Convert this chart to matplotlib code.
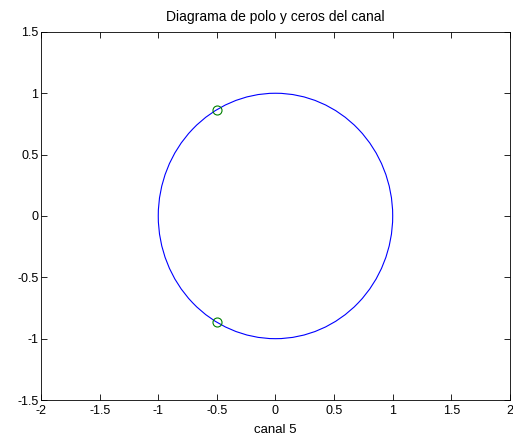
import matplotlib
matplotlib.use("Agg")
import matplotlib.pyplot as plt
from matplotlib.patches import Circle

# Zeros of the channel (real and imaginary parts)
zeros_re = [-0.5, -0.5]
zeros_im = [0.866, -0.866]
unit_radius = 1.0

x_ticks = [-2, -1.5, -1, -0.5, 0, 0.5, 1, 1.5, 2]
x_ticklabels = ["-2", "-1.5", "-1", "-0.5", "0", "0.5", "1", "1.5", "2"]
y_ticks = [-1.5, -1, -0.5, 0, 0.5, 1, 1.5]
y_ticklabels = ["-1.5", "-1", "-0.5", "0", "0.5", "1", "1.5"]

plt.rcParams["font.family"] = ["Liberation Sans", "DejaVu Sans"]
plt.rcParams["font.size"] = 9

fig = plt.figure(figsize=(5.13, 4.43), dpi=100)
ax = fig.add_axes([0.080, 0.097, 0.914, 0.831])

ax.add_patch(Circle((0, 0), unit_radius, fill=False, edgecolor="#0000ff", linewidth=0.8))
ax.plot(zeros_re, zeros_im, linestyle="none", marker="o", markersize=6.5,
        markerfacecolor="none", markeredgecolor="#008000", markeredgewidth=0.8)

ax.set_xlim(-2, 2)
ax.set_ylim(-1.5, 1.5)
ax.set_xticks(x_ticks)
ax.set_xticklabels(x_ticklabels)
ax.set_yticks(y_ticks)
ax.set_yticklabels(y_ticklabels)
ax.tick_params(direction="in", top=True, right=True, length=4, width=0.6,
               labelsize=9)
ax.tick_params(axis="x", pad=3.5)
ax.tick_params(axis="y", pad=2)
for s in ax.spines.values():
    s.set_linewidth(0.6)

ax.set_title("Diagrama de polo y ceros del canal", fontsize=10, pad=8)
ax.set_xlabel("canal 5", fontsize=9.5, labelpad=5)

fig.savefig("out.png", dpi=100)
